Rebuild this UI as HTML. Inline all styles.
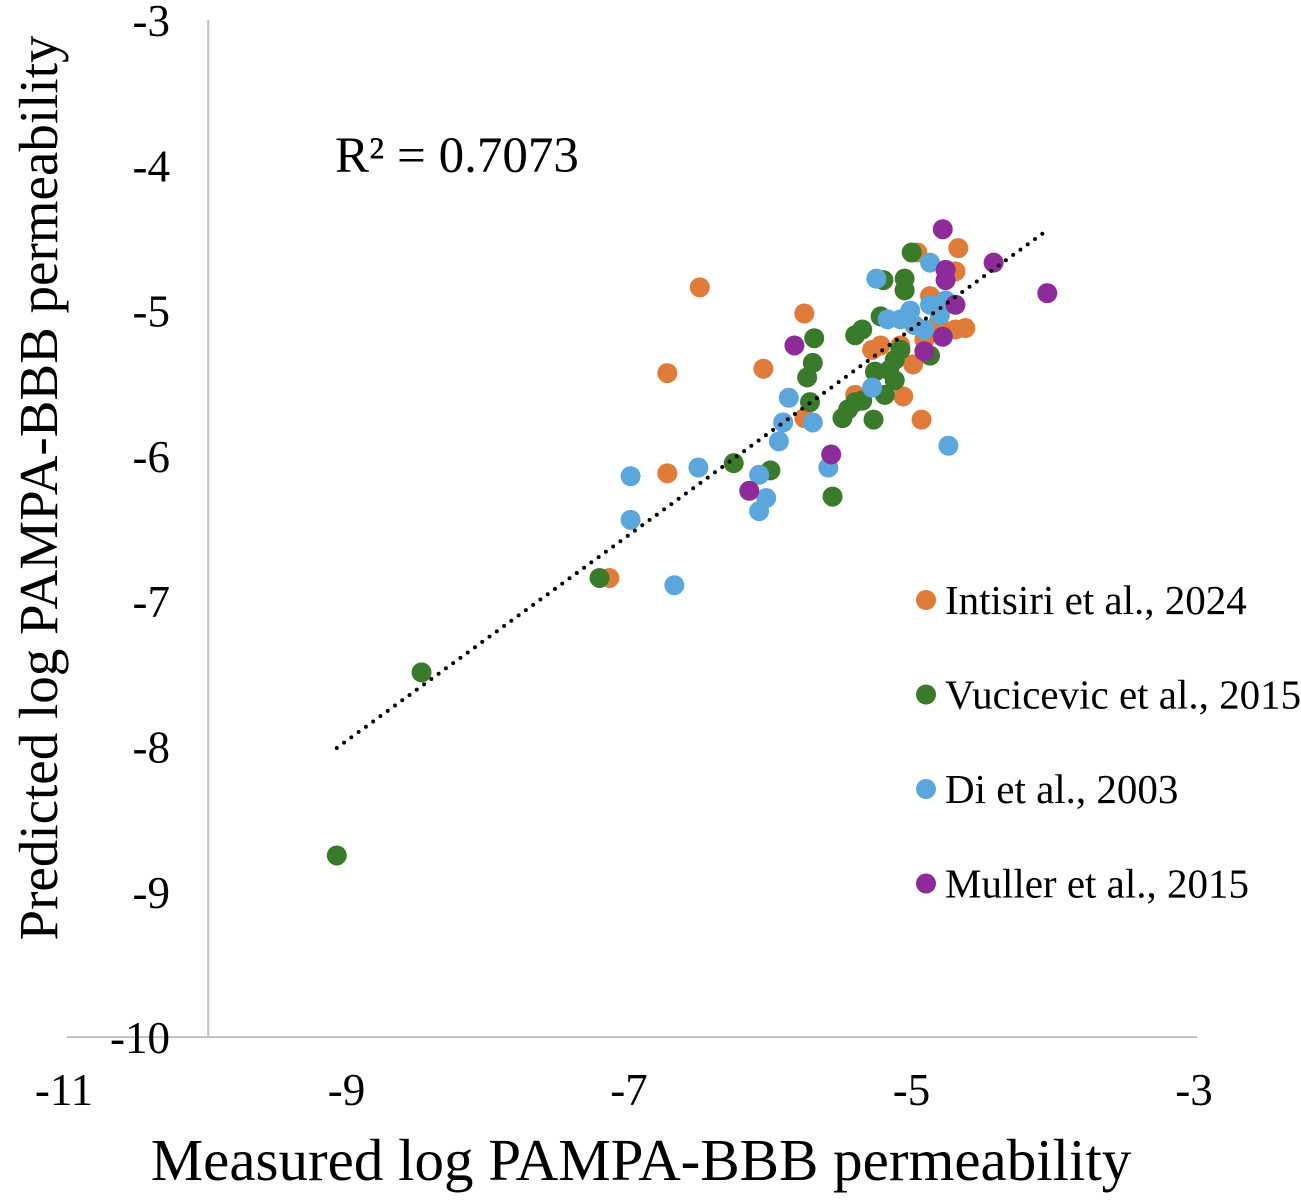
<!DOCTYPE html>
<html><head><meta charset="utf-8"><style>
body{margin:0;background:#fff}
svg text{font-family:"Liberation Serif",serif;fill:#000}
</style></head><body>
<svg id="chart" width="1301" height="1195" xmlns="http://www.w3.org/2000/svg">
<g id="axes"></g><g id="marks"></g><g id="legend"></g>
</svg>
<script>
const xTicks=[-11,-9,-7,-5,-3];
const yTicks=[-3,-4,-5,-6,-7,-8,-9,-10];
const seriesNames=["Intisiri et al., 2024","Vucicevic et al., 2015","Di et al., 2003","Muller et al., 2015"];
const seriesColors=["#E07B39","#3A7A2B","#5BA7DC","#8E2B9A"];
const intisiriX=[-6.52,-6.75,-6.75,-6.07,-5.78,-7.16,-5.78,-4.95,-4.69,-4.71,-4.89,-4.64,-4.71,-5.07,-5.24,-5.10,-5.01,-5.08,-5.42,-5.30,-4.98,-4.83,-4.93];
const intisiriY=[-4.84,-5.43,-6.12,-5.40,-5.02,-6.84,-5.74,-5.75,-4.57,-4.73,-4.90,-5.12,-5.13,-4.86,-5.24,-5.24,-5.37,-5.59,-5.58,-5.27,-4.60,-5.08,-5.20];
const vucicevicX=[-9.09,-8.49,-7.23,-6.28,-6.02,-5.58,-5.71,-5.72,-5.76,-5.74,-5.51,-5.29,-5.42,-5.37,-5.24,-5.22,-5.07,-5.07,-5.02,-5.28,-5.18,-5.14,-5.21,-5.42,-5.47,-5.10,-4.89,-5.37,-5.14,-5.04];
const vucicevicY=[-8.75,-7.49,-6.84,-6.05,-6.10,-6.28,-5.19,-5.36,-5.46,-5.63,-5.74,-5.75,-5.17,-5.13,-5.04,-4.79,-4.78,-4.86,-4.60,-5.42,-5.41,-5.48,-5.58,-5.63,-5.68,-5.27,-5.31,-5.62,-5.34,-5.06];
const diX=[-7.01,-7.01,-6.70,-6.53,-6.10,-6.05,-6.10,-5.96,-5.93,-5.89,-5.72,-5.61,-5.30,-5.27,-5.19,-5.03,-5.00,-4.89,-4.89,-5.10,-4.76,-4.78,-4.93,-4.82];
const diY=[-6.14,-6.44,-6.89,-6.08,-6.13,-6.29,-6.38,-5.90,-5.77,-5.60,-5.77,-6.08,-5.53,-4.78,-5.06,-5.00,-5.10,-4.96,-4.67,-5.06,-5.93,-4.93,-5.13,-5.03];
const mullerX=[-4.80,-4.78,-4.78,-4.71,-4.80,-4.93,-4.44,-4.06,-5.85,-5.59,-6.17];
const mullerY=[-4.44,-4.72,-4.79,-4.96,-5.18,-5.28,-4.67,-4.88,-5.24,-5.99,-6.24];
const trendX=[-9.09,-4.08];
const trendY=[-8.01,-4.46];

const NS="http://www.w3.org/2000/svg";
const sx=v=>67+(v+11)*141.25;
const sy=v=>20+(-3-v)*145.3;
function mk(tag,parent,attrs){const e=document.createElementNS(NS,tag);for(const k in attrs)e.setAttribute(k,attrs[k]);parent.appendChild(e);return e;}
const axes=document.getElementById('axes'),marks=document.getElementById('marks'),legend=document.getElementById('legend');

let xl=mk('line',axes,{x1:sx(-11),x2:sx(-3),y1:sy(-10),y2:sy(-10),stroke:'#bfbfbf','stroke-width':2});


let yl=mk('line',axes,{x1:sx(-10),x2:sx(-10),y1:sy(-3),y2:sy(-10),stroke:'#bfbfbf','stroke-width':2});


xTicks.forEach(t=>{
 const e=mk('text',axes,{x:sx(t)-3,y:1105,'font-size':45,'text-anchor':'middle'});e.textContent=t;
 
 
});
yTicks.forEach(t=>{
 const e=mk('text',axes,{x:170,y:sy(t)+16,'font-size':45,'text-anchor':'end'});e.textContent=t;
 
 
});
let xt=mk('text',axes,{x:641,y:1180,'font-size':59,'text-anchor':'middle'});xt.textContent='Measured log PAMPA-BBB permeability';


let yt=mk('text',axes,{x:0,y:0,'font-size':55,'text-anchor':'middle',transform:'translate(57,488) rotate(-90)'});yt.textContent='Predicted log PAMPA-BBB permeability';


let r2=mk('text',axes,{x:335,y:172,'font-size':51});r2.textContent='R² = 0.7073';



const all=[[intisiriX,intisiriY],[vucicevicX,vucicevicY],[diX,diY],[mullerX,mullerY]];
all.forEach((s,i)=>{
 s[0].forEach((x,j)=>{
  const c=mk('circle',marks,{cx:sx(x),cy:sy(s[1][j]),r:10,fill:seriesColors[i]});
  
  
 });
});
let tl=mk('line',marks,{x1:sx(trendX[0]),y1:sy(trendY[0]),x2:sx(trendX[1]),y2:sy(trendY[1]),stroke:'#000','stroke-width':4,'stroke-dasharray':'0 9','stroke-linecap':'round'});



seriesNames.forEach((n,i)=>{
 const y=600+i*94.5;
 const c=mk('circle',legend,{cx:926,cy:y,r:10,fill:seriesColors[i]});
 
 
 const t=mk('text',legend,{x:945,y:y+14,'font-size':41});t.textContent=n;
 
 
});
</script>
</body></html>
